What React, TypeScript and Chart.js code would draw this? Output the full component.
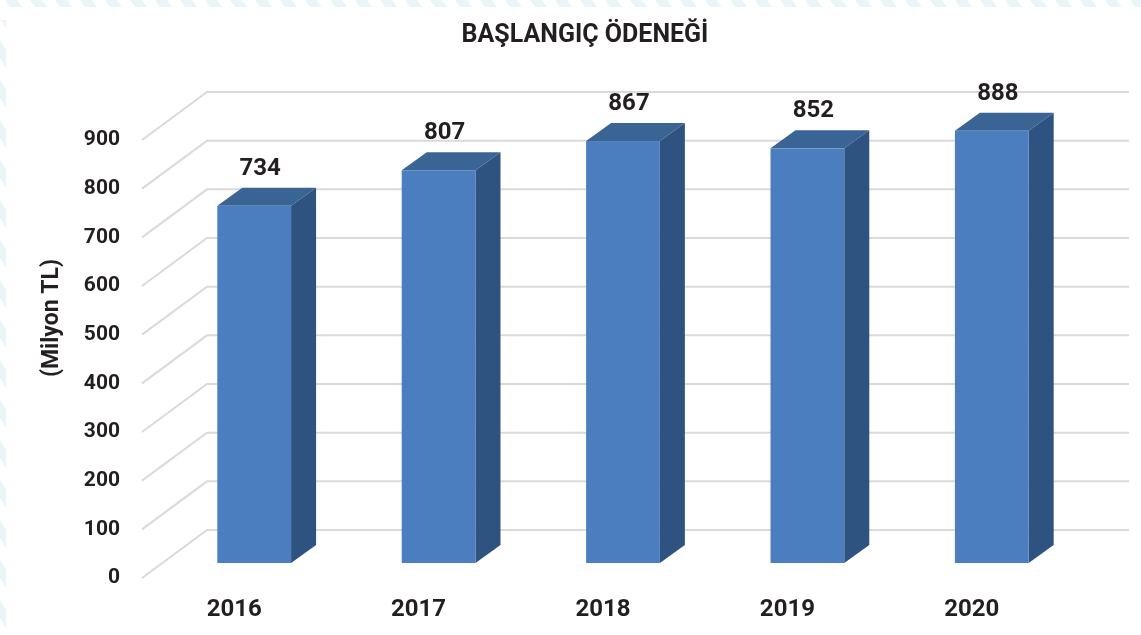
import { useEffect, useRef } from "react";
import { Chart, registerables } from "chart.js";

Chart.register(...registerables);

// ---- data ----
const categories = ["2016", "2017", "2018", "2019", "2020"];
const values = [734, 807, 867, 852, 888];
const yMin = 0;
const yMax = 900;
const yStep = 100;
const chartTitle = "BAŞLANGIÇ ÖDENEĞİ";
const yAxisTitle = "(Milyon TL)";

// ---- style ----
const FONT = "Roboto, 'Noto Sans', sans-serif";
const TEXT = "#231F20";
const FRONT = "#4A7EBF";
const TOP = "#3A6494";
const SIDE = "#2F5381";
const GRID = "#DADADA";
const STRIPE = "#EAF5FA";
const WALL = { dx: 65, dy: -48 };
const BAR_OFF = { dx: 20, dy: -15 };
const BAR_DEPTH = { dx: 25, dy: -18 };

const threeD = {
  id: "threeD",
  beforeDraw(chart: any) {
    const { ctx, width, height } = chart;
    ctx.save();
    ctx.fillStyle = "#ffffff";
    ctx.fillRect(0, 0, width, height);
    // decorative faint stripes along top and left edges
    ctx.fillStyle = STRIPE;
    ctx.save();
    ctx.beginPath();
    ctx.rect(0, 0, width, 7);
    ctx.clip();
    for (let x = -20; x < width + 20; x += 25) {
      ctx.beginPath();
      ctx.moveTo(x, 0);
      ctx.lineTo(x + 12, 0);
      ctx.lineTo(x + 17, 7);
      ctx.lineTo(x + 5, 7);
      ctx.closePath();
      ctx.fill();
    }
    ctx.restore();
    ctx.save();
    ctx.beginPath();
    ctx.rect(0, 20, 6, height - 20);
    ctx.clip();
    for (let y = 0; y < height + 40; y += 40) {
      ctx.beginPath();
      ctx.moveTo(0, y);
      ctx.lineTo(6, y + 10);
      ctx.lineTo(6, y + 28);
      ctx.lineTo(0, y + 18);
      ctx.closePath();
      ctx.fill();
    }
    ctx.restore();
    // chart title
    ctx.fillStyle = TEXT;
    ctx.font = `bold 25px ${FONT}`;
    ctx.textAlign = "center";
    ctx.textBaseline = "middle";
    ctx.fillText(chartTitle, 585, 36);
    ctx.restore();
  },
  beforeDatasetsDraw(chart: any) {
    const { ctx, chartArea } = chart;
    const ys = chart.scales.y;
    ctx.save();
    ctx.strokeStyle = GRID;
    ctx.lineWidth = 2;
    ys.ticks.forEach((t: any) => {
      const y = ys.getPixelForValue(t.value);
      ctx.beginPath();
      ctx.moveTo(chartArea.left, y);
      ctx.lineTo(chartArea.left + WALL.dx, y + WALL.dy);
      ctx.lineTo(chartArea.right + WALL.dx, y + WALL.dy);
      ctx.stroke();
    });
    ctx.restore();
  },
  afterDatasetsDraw(chart: any) {
    const { ctx } = chart;
    const meta = chart.getDatasetMeta(0);
    ctx.save();
    meta.data.forEach((el: any, i: number) => {
      const { x, y, base, width } = el.getProps(["x", "y", "base", "width"], true);
      const xl = x - width / 2 + BAR_OFF.dx;
      const xr = x + width / 2 + BAR_OFF.dx;
      const yt = y + BAR_OFF.dy;
      const yb = base + BAR_OFF.dy;
      const dx = BAR_DEPTH.dx;
      const dy = BAR_DEPTH.dy;
      // side
      ctx.fillStyle = SIDE;
      ctx.beginPath();
      ctx.moveTo(xr, yt);
      ctx.lineTo(xr + dx, yt + dy);
      ctx.lineTo(xr + dx, yb + dy);
      ctx.lineTo(xr, yb);
      ctx.closePath();
      ctx.fill();
      // top
      ctx.fillStyle = TOP;
      ctx.beginPath();
      ctx.moveTo(xl, yt);
      ctx.lineTo(xl + dx, yt + dy);
      ctx.lineTo(xr + dx, yt + dy);
      ctx.lineTo(xr, yt);
      ctx.closePath();
      ctx.fill();
      // front
      ctx.fillStyle = FRONT;
      ctx.fillRect(xl, yt, xr - xl, yb - yt);
      // value label
      ctx.fillStyle = TEXT;
      ctx.font = `bold 24px ${FONT}`;
      ctx.textAlign = "center";
      ctx.textBaseline = "middle";
      ctx.fillText(String(values[i]), (xl + xr) / 2 + 6, yt - 37);
    });
    // y axis title
    ctx.translate(52, 318);
    ctx.rotate(-Math.PI / 2);
    ctx.fillStyle = TEXT;
    ctx.font = `bold 23px ${FONT}`;
    ctx.textAlign = "center";
    ctx.textBaseline = "middle";
    ctx.fillText(yAxisTitle, 0, 0);
    ctx.restore();
  },
};

export default function App() {
  const ref = useRef<HTMLCanvasElement | null>(null);
  useEffect(() => {
    if (!ref.current) return;
    const chart = new Chart(ref.current, {
      type: "bar",
      data: {
        labels: categories,
        datasets: [
          {
            data: values,
            backgroundColor: "rgba(0,0,0,0)",
            borderWidth: 0,
            barPercentage: 0.4,
            categoryPercentage: 1,
          },
        ],
      },
      options: {
        responsive: false,
        animation: false,
        devicePixelRatio: 1,
        layout: { padding: { left: 0, right: 77, top: 140, bottom: 0 } },
        plugins: {
          legend: { display: false },
          tooltip: { enabled: false },
          title: { display: false },
        },
        scales: {
          x: {
            grid: { display: false, drawTicks: false },
            border: { display: false },
            ticks: {
              color: TEXT,
              padding: 18,
              font: { family: FONT, size: 24, weight: "bold", lineHeight: 1.2 },
            },
            afterFit: (s: any) => {
              s.height = 57;
            },
          },
          y: {
            min: yMin,
            max: yMax,
            grid: { display: false, drawTicks: false },
            border: { display: false },
            ticks: {
              stepSize: yStep,
              color: TEXT,
              padding: 22,
              font: { family: FONT, size: 21, weight: "bold" },
            },
            afterFit: (s: any) => {
              s.width = 142;
            },
          },
        },
      },
      plugins: [threeD],
    });
    return () => chart.destroy();
  }, []);
  return (
    <div style={{ position: "fixed", left: 0, top: 0, width: 1141, height: 635, background: "#fff" }}>
      <canvas ref={ref} width={1141} height={635} style={{ display: "block" }} />
    </div>
  );
}
